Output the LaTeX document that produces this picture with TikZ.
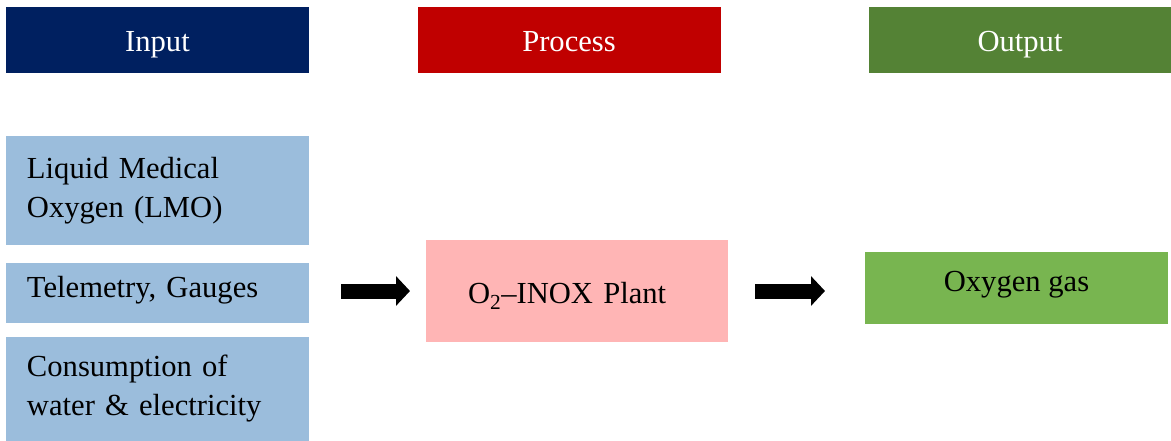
\documentclass[tikz,border=0pt]{standalone}
\usepackage{fontspec}
\setmainfont{Liberation Serif}
\usepackage{tikz}
\usetikzlibrary{arrows.meta,math}
\definecolor{HeadBlue}{RGB}{0,32,96}
\definecolor{HeadRed}{RGB}{192,0,0}
\definecolor{HeadGreen}{RGB}{84,130,53}
\definecolor{InBlue}{RGB}{155,189,220}
\definecolor{PlantPink}{RGB}{255,181,181}
\definecolor{OutGreen}{RGB}{120,181,80}
\tikzset{%
  box/.style={inner ysep=0pt, outer sep=0pt},
  header/.style={box, fill=#1, text=white, minimum width=303pt, minimum height=66pt,
    inner xsep=0pt, text height=24pt, text depth=0pt},
  in box/.style={box, fill=InBlue, minimum height=#1, text width=261pt,
    inner xsep=21pt, align=left},
  fat arrow/.style={line width=15pt, -{Triangle[width=29pt,length=14pt]}}
}
\frenchspacing

\begin{document}
\begin{tikzpicture}[x=1pt,y=-1pt,font=\fontsize{30.6pt}{39pt}\selectfont]
    \tikzmath{
      \colin=157.5;% input column
      \colproc=569;% process column
      \colout=1020;% output column
      \rowhead=40;% header row
    }
    \useasboundingbox (0,0) rectangle (1171,441);
    % Headers.
    \node[header=HeadBlue] (inhead) at (\colin,\rowhead) {Input};
    \node[header=HeadRed] (prochead) at (\colproc,\rowhead) {Process};
    \node[header=HeadGreen] (outhead) at (\colout,\rowhead) {Output};
    % Inputs.
    \node[in box=109pt] (lmo) at (\colin,190.5) {Liquid Medical\\Oxygen (LMO)};
    \node[in box=60pt, text height=21pt, text depth=13pt] (tele) at (\colin,293)
      {Telemetry, Gauges};
    \node[in box=104pt] (water) at (\colin,389) {Consumption of\\water \& electricity};
    % Process.
    \node[box, fill=PlantPink, minimum height=102pt, text width=218pt, inner xsep=42pt,
      align=left, text height=25pt, text depth=0pt] (plant) at (577,291)
      {O\textsubscript{2}–INOX Plant};
    % Output.
    \node[box, fill=OutGreen, minimum width=303pt, minimum height=72pt,
      text height=21pt, text depth=14pt] (gas) at (1016.5,288) {Oxygen gas};
    % Arrows.
    \draw[fat arrow, shorten <=32pt, shorten >=16pt] (plant.west -| tele.east) -- (plant.west);
    \draw[fat arrow, shorten <=27pt, shorten >=40pt] (plant.east) -- (plant.east -| gas.west);
\end{tikzpicture}
\end{document}
